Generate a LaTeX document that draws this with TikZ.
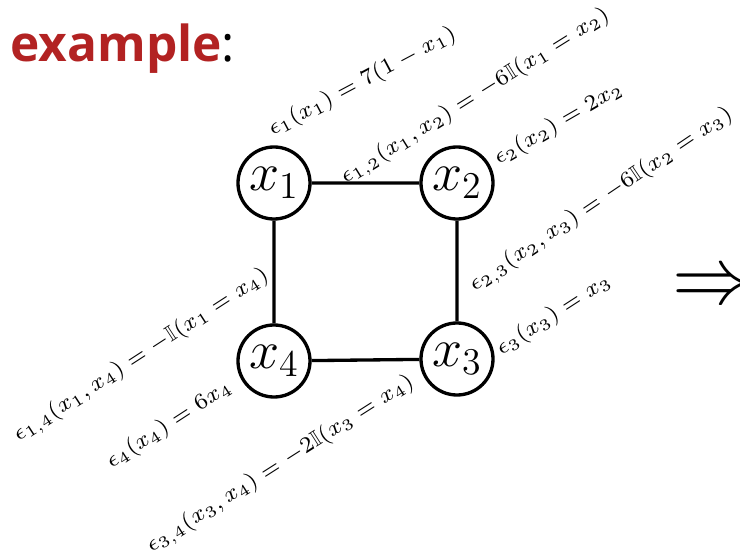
\RequirePackage{fix-cm}
\documentclass[tikz,border=0pt]{standalone}
\usepackage{amsmath}
\usepackage{amssymb}
\usepackage{fontspec}
\newfontfamily\titlefont{Open Sans}
\definecolor{exred}{RGB}{178,34,34}

\begin{document}
\begin{tikzpicture}[x=0.361pt, y=-0.361pt,
    var/.style={circle, draw, line width=1.2pt, minimum size=26pt, inner sep=0pt,
      font=\fontsize{19.5}{21}\selectfont},
    pot/.style={anchor=base west, inner sep=0pt, font=\scriptsize, scale=1.16}]
  \useasboundingbox (0,0) rectangle (740,559);
  \clip (0,0) rectangle (740,559);

  % Title
  \node[anchor=base west, inner sep=0pt] (title) at (10,62)
    {\titlefont\fontsize{17.9}{20}\selectfont\textcolor{exred}{\bfseries example}:};

  % Variables
  \node[var] (x1) at (274,183) {$x_1$};
  \node[var] (x2) at (457,183) {$x_2$};
  \node[var] (x3) at (457,359) {$x_3$};
  \node[var] (x4) at (274,361) {$x_4$};

  % Edges of the cycle
  \draw[line width=1.2pt] (x1) -- (x2) -- (x3) -- (x4) -- (x1);

  % Unary potentials
  \node[pot, rotate=28] (e1) at (272,136) {$\epsilon_1(x_1) = 7(1-x_1)$};
  \node[pot, rotate=30] (e2) at (498,165) {$\epsilon_2(x_2) = 2x_2$};
  \node[pot, rotate=33] (e3) at (501,356) {$\epsilon_3(x_3) = x_3$};
  \node[pot, rotate=33] (e4) at (111,469) {$\epsilon_4(x_4) = 6x_4$};

  % Pairwise potentials
  \node[pot, rotate=32] (e12) at (345,184) {$\epsilon_{1,2}(x_1,x_2) = -6\mathbb{I}(x_1 = x_2)$};
  \node[pot, rotate=34] (e23) at (474,292) {$\epsilon_{2,3}(x_2,x_3) = -6\mathbb{I}(x_2 = x_3)$};
  \node[pot, rotate=33] (e14) at (18,442) {$\epsilon_{1,4}(x_1,x_4) = -\mathbb{I}(x_1 = x_4)$};
  \node[pot, rotate=32.5] (e34) at (151,553) {$\epsilon_{3,4}(x_3,x_4) = -2\mathbb{I}(x_3 = x_4)$};

  % Implies
  \node[anchor=west, inner sep=0pt, scale=1.17, font=\Huge] (imp) at (672,289) {$\Rightarrow$};
\end{tikzpicture}
\end{document}
